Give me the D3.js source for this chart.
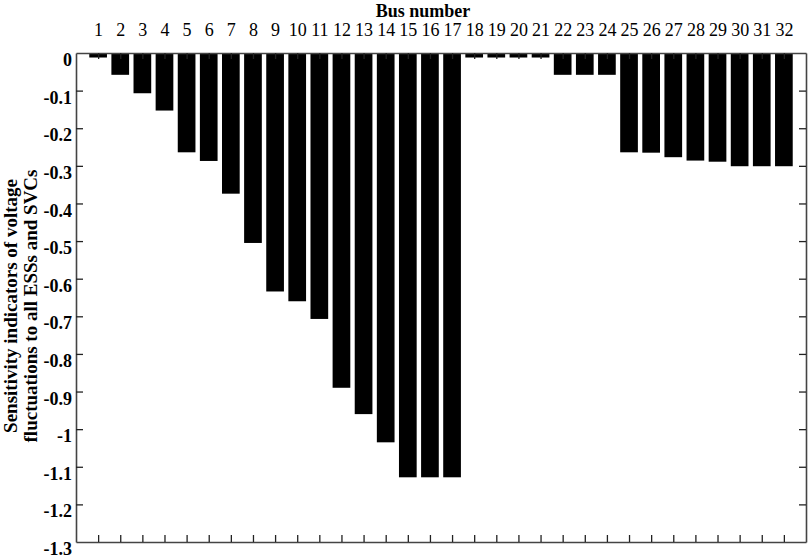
<!DOCTYPE html>
<html>
<head>
<meta charset="utf-8">
<script src="https://cdn.jsdelivr.net/npm/d3@7"></script>
<style>
  body { margin: 0; background: #fff; }
  svg { display: block; }
  svg text { font-family: "Liberation Serif", "Times New Roman", serif; }
</style>
</head>
<body>
<div id="chart"></div>
<script>
// podaci
const buses = d3.range(1, 33);
const sensitivity = [
  -0.012, -0.058, -0.107, -0.153, -0.264, -0.287, -0.374, -0.505,
  -0.634, -0.660, -0.707, -0.890, -0.960, -1.035, -1.128, -1.128,
  -1.128, -0.012, -0.012, -0.012, -0.012, -0.058, -0.058, -0.058,
  -0.264, -0.265, -0.277, -0.286, -0.289, -0.301, -0.301, -0.301
];
const yTicks = [0, -0.1, -0.2, -0.3, -0.4, -0.5, -0.6, -0.7, -0.8, -0.9, -1, -1.1, -1.2, -1.3];
const yLabelLines = ["Sensitivity indicators of voltage", "fluctuations to all ESSs and SVCs"];

const width = 809, height = 559;
const plot = { left: 76, right: 806, top: 53, bottom: 542 };

const svg = d3.select("#chart")
  .append("svg")
  .attr("width", width)
  .attr("height", height);

const x = d3.scaleLinear().domain([0, 33]).range([plot.left, plot.right]);
const y = d3.scaleLinear().domain([-1.3, 0]).range([plot.bottom, plot.top]);
const barW = 0.8 * (x(1) - x(0));

//stupci
svg.selectAll(".bar")
  .data(sensitivity)
  .enter()
  .append("rect")
  .attr("class", "bar")
  .attr("x", (d, i) => x(buses[i]) - barW / 2)
  .attr("y", y(0))
  .attr("width", barW)
  .attr("height", d => y(d) - y(0))
  .attr("fill", "#000");

//osi
const topAxis = svg.append("g")
  .attr("transform", `translate(0,${plot.top})`)
  .call(d3.axisTop(x).tickValues(buses).tickSize(-6).tickPadding(17).tickSizeOuter(0));
topAxis.selectAll("text").style("font-size", "18px").attr("fill", "#000");

svg.append("g")
  .attr("transform", `translate(0,${plot.bottom})`)
  .call(d3.axisBottom(x).tickValues(buses).tickSize(-7).tickSizeOuter(0).tickFormat(""));

const leftAxis = svg.append("g")
  .attr("transform", `translate(${plot.left},0)`)
  .call(d3.axisLeft(y).tickValues(yTicks).tickSize(-7).tickPadding(4).tickSizeOuter(0)
    .tickFormat(d => String(d)));
leftAxis.selectAll("text")
  .style("font-size", "18px")
  .style("font-weight", "bold")
  .attr("dy", "0.7em")
  .attr("fill", "#000");

svg.append("g")
  .attr("transform", `translate(${plot.right},0)`)
  .call(d3.axisRight(y).tickValues(yTicks).tickSize(-7).tickSizeOuter(0).tickFormat(""));

svg.selectAll(".domain").attr("stroke", "#444").attr("stroke-width", 1.6);
svg.selectAll(".tick line").attr("stroke", "#222").attr("stroke-width", 1.3);
svg.selectAll(".tick").filter(d => d === 0 || d === -1.3).select("line").remove();

//naslovi
svg.append("text")
  .attr("x", 423)
  .attr("y", 17)
  .attr("text-anchor", "middle")
  .style("font-size", "18px")
  .style("font-weight", "bold")
  .text("Bus number");

const yl = svg.append("text")
  .attr("transform", "translate(0,306) rotate(-90)")
  .attr("text-anchor", "middle")
  .style("font-size", "19px")
  .style("font-weight", "bold");
yl.selectAll("tspan")
  .data(yLabelLines)
  .enter()
  .append("tspan")
  .attr("x", 0)
  .attr("y", (d, i) => 17 + i * 20)
  .text(d => d);
</script>
</body>
</html>
